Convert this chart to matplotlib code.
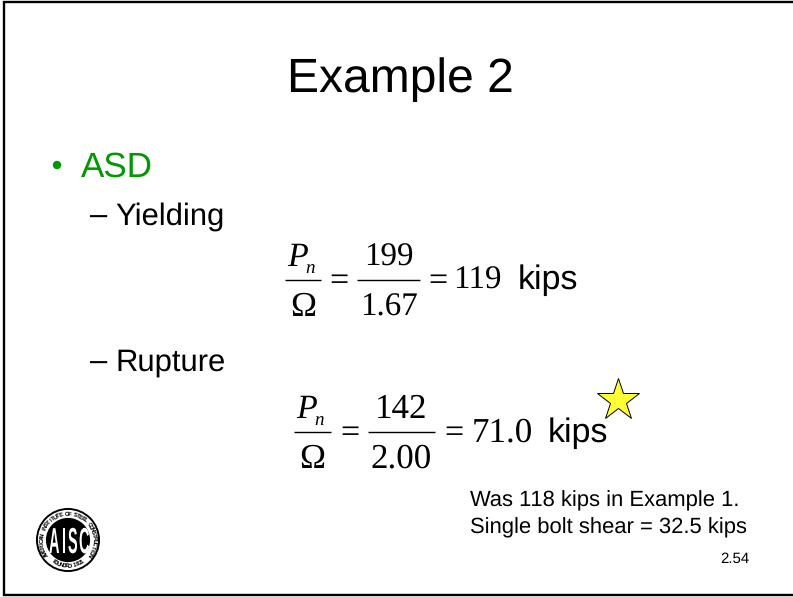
# -*- coding: utf-8 -*-
import numpy as np
import matplotlib
matplotlib.use("Agg")
import matplotlib.pyplot as plt
from matplotlib.patches import Circle
from matplotlib.patheffects import AbstractPathEffect
from matplotlib.transforms import Affine2D

SANS = "Liberation Sans"
SERIF = "Liberation Serif"

title = "Example 2"
heading = "ASD"
limit_states = ["Yielding", "Rupture"]
numerators = ["199", "142"]
denominators = ["1.67", "2.00"]
results = ["119", "71.0"]
unit = "kips"
notes = ["Was 118 kips in Example 1.", "Single bolt shear = 32.5 kips"]
slide_no = "2.54"
seal_top = "AMERICAN INSTITUTE OF STEEL CONSTRUCTION"
seal_bottom = "FOUNDED 1921"
seal_mid = ["A", "I", "S", "C"]


class Squeeze(AbstractPathEffect):
    # ロゴの縦長の文字用
    def __init__(self, sx):
        super().__init__()
        self.sx = sx

    def draw_path(self, renderer, gc, tpath, affine, rgbFace=None):
        renderer.draw_path(gc, tpath, Affine2D().scale(self.sx, 1) + affine, rgbFace)


def sans(ax, x, y, s, size, color="black", ha="left"):
    ax.text(x, y, s, family=SANS, fontsize=size, color=color, ha=ha, va="baseline")


def serif(ax, x, y, s, size, ha="center", style="normal"):
    ax.text(x, y, s, family=SERIF, fontsize=size, ha=ha, va="baseline", style=style)


def fraction(ax, x0, x1, y, top, bottom, size):
    ax.plot([x0, x1], [y, y], color="black", lw=1.0, solid_capstyle="butt")
    cx = (x0 + x1) / 2
    serif(ax, cx, y - 14, top, size)
    serif(ax, cx, y + 36, bottom, size)


def equation(ax, x, y, num, den, res, size, kips_dy):
    # P_n / Omega
    ax.plot([x["bar0"], x["bar1"]], [y, y], color="black", lw=1.0, solid_capstyle="butt")
    serif(ax, x["P"], y - 14, "P", 24.5, style="italic")
    serif(ax, x["P"] + 12, y - 7, "n", 14, style="italic")
    serif(ax, (x["bar0"] + x["bar1"]) / 2, y + 36, "\u03a9", 25)
    serif(ax, x["eq1"], y + 10, "=", 24.5)
    fraction(ax, x["f0"], x["f1"], y, num, den, size)
    serif(ax, x["eq2"], y + 10, "=", 24.5)
    serif(ax, x["res"], y + kips_dy, res, size, ha="left")
    sans(ax, x["kips"], y + kips_dy, unit, 24.8)


def seal(ax, cx, cy, r):
    ax.add_patch(Circle((cx, cy), r, fc="black", ec="none"))
    ax.add_patch(Circle((cx, cy), r * 0.94, fc="white", ec="none"))
    ax.add_patch(Circle((cx, cy), r * 0.69, fc="black", ec="none"))
    ang = np.linspace(-124, 124, len(seal_top))
    for ch, a in zip(seal_top, ang):
        t = np.radians(a)
        ax.text(cx + r * 0.81 * np.sin(t), cy - r * 0.81 * np.cos(t), ch, family=SANS,
                fontsize=4.0, fontweight="bold", rotation=-a, rotation_mode="anchor",
                ha="center", va="center")
    ang = np.linspace(214, 146, len(seal_bottom))
    for ch, a in zip(seal_bottom, ang):
        t = np.radians(a)
        ax.text(cx + r * 0.81 * np.sin(t), cy - r * 0.81 * np.cos(t), ch, family=SANS,
                fontsize=4.0, fontweight="bold", rotation=180 - a, rotation_mode="anchor",
                ha="center", va="center")
    for ch, dx in zip(seal_mid, [-19, -6, 0, 11]):
        ax.text(cx + dx, cy + 13, ch, family=SANS, fontsize=26, fontweight="bold",
                color="white", ha="left", va="baseline", path_effects=[Squeeze(0.4)])


def main():
    plt.rcParams["text.hinting"] = "none"
    plt.rcParams["text.hinting_factor"] = 1

    fig = plt.figure(figsize=(7.93, 5.97), dpi=100)
    ax = fig.add_axes([0, 0, 1, 1])
    ax.set_xlim(0, 793)
    ax.set_ylim(597, 0)
    ax.axis("off")

    # 枠 (右側には線がない)
    ax.plot([793, 4, 4, 793], [2, 2, 595, 595], color="black", lw=1.7,
            solid_joinstyle="miter", solid_capstyle="butt")

    sans(ax, 400, 92, title, 34.4, ha="center")
    ax.add_patch(Circle((57, 165), 4.2, fc="#009900", ec="none"))
    sans(ax, 81, 177, heading, 25, color="#009900")

    sans(ax, 90, 225, "\u2013", 22.2)
    sans(ax, 115, 225, limit_states[0], 22.2)
    sans(ax, 90, 371, "\u2013", 22.2)
    sans(ax, 115, 371, limit_states[1], 22.2)

    row1 = dict(bar0=285, bar1=321, P=298, eq1=339, f0=357, f1=420, eq2=438, res=453, kips=518)
    row2 = dict(bar0=294, bar1=331, P=307, eq1=350, f0=368, f1=435, eq2=454, res=472, kips=548)
    equation(ax, row1, 280, numerators[0], denominators[0], results[0], 24, 9)
    equation(ax, row2, 432, numerators[1], denominators[1], results[1], 25, 10)

    ax.plot([617.5], [400], marker="*", ms=32, mfc="#ffff33", mec="black", mew=0.7, zorder=5)

    sans(ax, 470, 506, notes[0], 15.8)
    sans(ax, 470, 533, notes[1], 15.8)
    sans(ax, 720, 563, slide_no, 10.8)

    seal(ax, 68, 540, 32)

    fig.savefig("out.png", dpi=100)


if __name__ == '__main__':
    main()
